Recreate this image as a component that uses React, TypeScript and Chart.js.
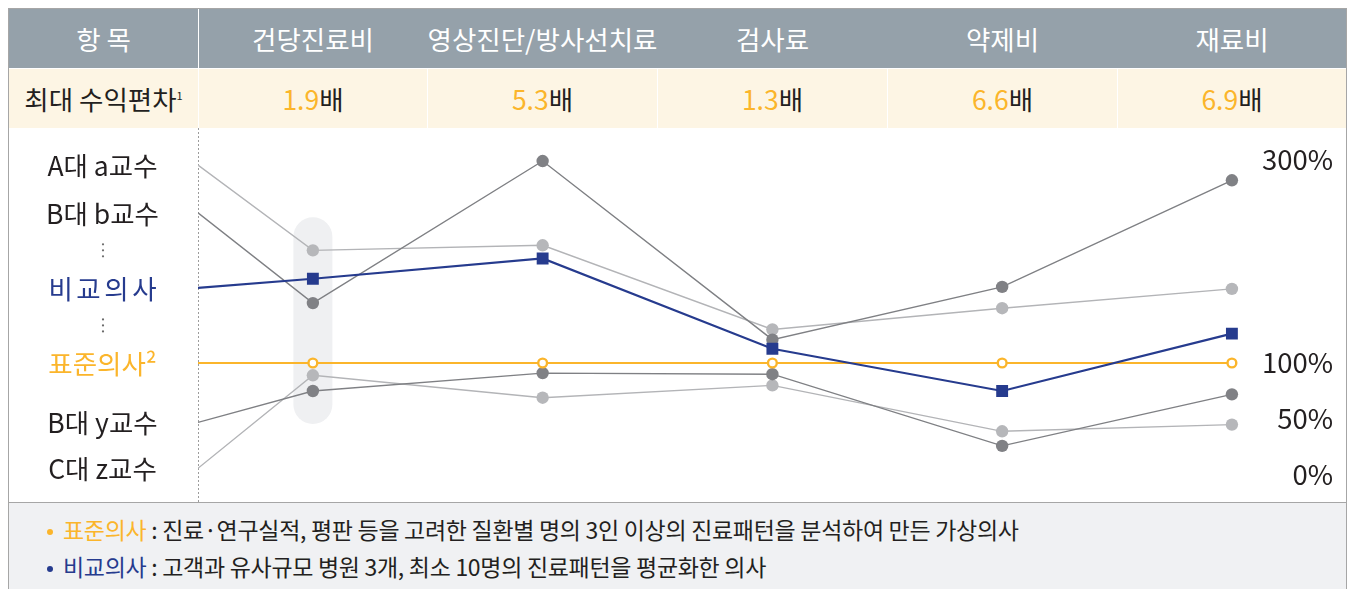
import React, { useEffect, useRef } from 'react';
import { Chart, LinearScale, registerables } from 'chart.js';

const FONT = '"Noto Sans CJK KR", "Noto Sans", sans-serif';

// ---------- data ----------
const HEADER_FIRST = '항 목';
const CATEGORIES = ['건당진료비', '영상진단/방사선치료', '검사료', '약제비', '재료비'];
const ROW_LABEL = '최대 수익편차';
const ROW_NOTE_MARK = '1';
const MAX_GAP = ['1.9', '5.3', '1.3', '6.6', '6.9'];
const GAP_UNIT = '배';

// first value of every series is where the line leaves its label (left edge)
const X_POSITIONS = [-0.5, 0, 1, 2, 3, 4];

const NAMES = ['A대 a교수', 'B대 b교수', '비교의사', '표준의사²', 'B대 y교수', 'C대 z교수'];
const A_PROF = [295, 211, 216, 133, 154, 173];
const B_PROF = [248, 159, 299, 123, 175, 280];
const COMPARE_DOC = [174, 183, 203, 114, 75, 129];
const STANDARD_DOC = [100, 100, 100, 100, 100, 100];
const Y_PROF = [47, 75, 91, 90, 26, 72];
const Z_PROF = [6, 89, 69, 80, 39, 45];

const Y_TICKS = [0, 50, 100, 300];

const NOTE_STANDARD_KEY = '표준의사';
const NOTE_STANDARD = ' : 진료·연구실적, 평판 등을 고려한 질환별 명의 3인 이상의 진료패턴을 분석하여 만든 가상의사';
const NOTE_COMPARE_KEY = '비교의사';
const NOTE_COMPARE = ' : 고객과 유사규모 병원 3개, 최소 10명의 진료패턴을 평균화한 의사';

// ---------- styles ----------
const C_ORANGE = '#fbb52b';
const C_BLUE = '#263b8e';
const C_DARK = '#7f8084';
const C_LIGHT = '#b6b7ba';
const C_TEXT = '#231f20';
const C_HEADER = '#95a1aa';
const C_BEIGE = '#fdf5e4';
const C_FOOT = '#f0f1f3';
const C_FRAME = '#a6a6a6';

type Kind = 'light' | 'dark' | 'blue' | 'orange';
const SERIES: { name: string; values: number[]; kind: Kind; color: string; spacing: number }[] = [
  { name: NAMES[0], values: A_PROF, kind: 'light', color: C_TEXT, spacing: 0 },
  { name: NAMES[1], values: B_PROF, kind: 'dark', color: C_TEXT, spacing: 0 },
  { name: NAMES[2], values: COMPARE_DOC, kind: 'blue', color: C_BLUE, spacing: 3.5 },
  { name: NAMES[3], values: STANDARD_DOC, kind: 'orange', color: C_ORANGE, spacing: 0 },
  { name: NAMES[4], values: Y_PROF, kind: 'dark', color: C_TEXT, spacing: 0 },
  { name: NAMES[5], values: Z_PROF, kind: 'light', color: C_TEXT, spacing: 0 },
];

// ---------- a y-scale whose part above 100% is slightly compressed ----------
const BREAK = 100;
const UPPER_RATIO = 0.90625;
const warp = (v: number) => (v <= BREAK ? v : BREAK + (v - BREAK) * UPPER_RATIO);
const unwarp = (u: number) => (u <= BREAK ? u : BREAK + (u - BREAK) / UPPER_RATIO);

class PiecewiseScale extends LinearScale {
  static id = 'piecewise';
  getPixelForValue(value: any) {
    if (value === null || value === undefined || isNaN(value)) return NaN;
    const a = warp(this.min);
    const b = warp(this.max);
    return this.getPixelForDecimal((warp(value) - a) / (b - a));
  }
  getValueForPixel(pixel: number) {
    const a = warp(this.min);
    const b = warp(this.max);
    return unwarp(a + this.getDecimalForPixel(pixel) * (b - a));
  }
}

Chart.register(...registerables, PiecewiseScale as any);

function datasetStyle(kind: Kind) {
  const hideFirst = (r: number) => (ctx: any) => (ctx.dataIndex === 0 ? 0 : r);
  switch (kind) {
    case 'light':
      return { borderColor: '#b3b4b7', borderWidth: 1.4, pointBackgroundColor: C_LIGHT, pointBorderWidth: 0, pointRadius: hideFirst(6.2), order: 3 };
    case 'dark':
      return { borderColor: C_DARK, borderWidth: 1.4, pointBackgroundColor: '#808185', pointBorderWidth: 0, pointRadius: hideFirst(6.2), order: 2 };
    case 'blue':
      return { borderColor: C_BLUE, borderWidth: 2.2, pointBackgroundColor: C_BLUE, pointBorderWidth: 0, pointStyle: 'rect', pointRadius: hideFirst(8.4), order: 0 };
    default:
      return { borderColor: C_ORANGE, borderWidth: 2, pointBackgroundColor: '#ffffff', pointBorderColor: C_ORANGE, pointBorderWidth: 2.4, pointRadius: hideFirst(4.4), order: 1 };
  }
}

const decorPlugin = {
  id: 'decor',
  beforeDatasetsDraw(chart: any) {
    const { ctx, chartArea, scales } = chart;
    const xs = scales.x;
    const ys = scales.y;
    // highlight pill behind the first category
    const px = xs.getPixelForValue(X_POSITIONS[1]);
    const pys = SERIES.map((s) => ys.getPixelForValue(s.values[1]));
    const top = Math.min(...pys) - 33;
    const bottom = Math.max(...pys) + 33;
    ctx.save();
    ctx.fillStyle = '#eff0f2';
    ctx.beginPath();
    ctx.roundRect(px - 19.5, top, 39, bottom - top, 19.5);
    ctx.fill();
    // dotted separator
    const lx = Math.round(chartArea.left) + 0.5;
    ctx.strokeStyle = '#9c9c9c';
    ctx.lineWidth = 1;
    ctx.setLineDash([2, 2]);
    ctx.beginPath();
    ctx.moveTo(lx, 0);
    ctx.lineTo(lx, chart.height);
    ctx.stroke();
    ctx.restore();
  },
  afterDraw(chart: any) {
    const { ctx, chartArea, scales } = chart;
    const ys = scales.y;
    const cx = chartArea.left / 2 - 1;
    ctx.save();
    ctx.textAlign = 'center';
    ctx.textBaseline = 'middle';
    ctx.font = `26.5px ${FONT}`;
    const yPix = SERIES.map((s) => ys.getPixelForValue(s.values[0]));
    SERIES.forEach((s, i) => {
      ctx.fillStyle = s.color;
      (ctx as any).letterSpacing = `${s.spacing}px`;
      ctx.fillText(s.name, cx + s.spacing / 2, yPix[i] + 1);
    });
    (ctx as any).letterSpacing = '0px';
    // vertical ellipses between label groups
    ctx.fillStyle = '#6a6a6a';
    [[1, 2], [2, 3]].forEach(([a, b]) => {
      const my = (yPix[a] + yPix[b]) / 2;
      [-6, 0, 6].forEach((d) => {
        ctx.beginPath();
        ctx.arc(cx + 0.5, my + d, 1.1, 0, Math.PI * 2);
        ctx.fill();
      });
    });
    ctx.restore();
  },
};

const COLS = [189, 228, 229, 229, 229, 228];

export default function App() {
  const canvasRef = useRef<HTMLCanvasElement>(null);

  useEffect(() => {
    document.documentElement.style.overflow = 'hidden';
    const chart = new Chart(canvasRef.current as HTMLCanvasElement, {
      type: 'line',
      data: {
        datasets: SERIES.map((s) => ({
          label: s.name,
          data: s.values.map((v, i) => ({ x: X_POSITIONS[i], y: v })),
          tension: 0,
          fill: false,
          ...datasetStyle(s.kind),
        })) as any,
      },
      options: {
        responsive: false,
        animation: false,
        events: [],
        devicePixelRatio: 1,
        layout: { autoPadding: false, padding: { left: 189, right: 13, top: 1.55, bottom: 4.6 } },
        plugins: { legend: { display: false }, tooltip: { enabled: false } },
        scales: {
          x: { type: 'linear', min: -0.5, max: 4.44, display: false },
          y: {
            type: 'piecewise' as any,
            position: 'right',
            min: -20,
            max: 330,
            bounds: 'data',
            grid: { display: false, drawTicks: false },
            border: { display: false },
            afterBuildTicks: (s: any) => {
              s.ticks = Y_TICKS.map((v) => ({ value: v }));
            },
            afterFit: (s: any) => {
              s.paddingTop = 0;
              s.paddingBottom = 0;
            },
            ticks: {
              mirror: true,
              padding: 0,
              crossAlign: 'near',
              autoSkip: false,
              color: C_TEXT,
              font: { family: FONT, size: 27.5 },
              callback: (v: any) => `${v}%`,
            },
          } as any,
        },
      },
      plugins: [decorPlugin],
    });
    return () => chart.destroy();
  }, []);

  const cell = (w: number, content: React.ReactNode, key: string) => (
    <div key={key} style={{ width: w, display: 'flex', alignItems: 'center', justifyContent: 'center', whiteSpace: 'nowrap' }}>
      {content}
    </div>
  );
  const divider = (color: string, key: string) => <div key={key} style={{ width: 1, background: color }} />;

  const headerCells: React.ReactNode[] = [];
  const beigeCells: React.ReactNode[] = [];
  COLS.forEach((w, i) => {
    if (i > 0) {
      headerCells.push(divider(i === 1 ? '#ffffff' : C_HEADER, `hd${i}`));
      beigeCells.push(divider('#ffffff', `bd${i}`));
    }
    headerCells.push(cell(w, i === 0 ? HEADER_FIRST : CATEGORIES[i - 1], `h${i}`));
    beigeCells.push(
      cell(
        w,
        i === 0 ? (
          <span>
            {ROW_LABEL}
            <span style={{ fontSize: 11, position: 'relative', top: -10 }}>{ROW_NOTE_MARK}</span>
          </span>
        ) : (
          <span>
            <span style={{ color: C_ORANGE }}>{MAX_GAP[i - 1]}</span>
            <span>{GAP_UNIT}</span>
          </span>
        ),
        `b${i}`
      )
    );
  });

  const bullet = (color: string) => (
    <span style={{ display: 'inline-block', width: 6, height: 6, borderRadius: 3, background: color, marginRight: 10, position: 'relative', top: -4 }} />
  );

  return (
    <div style={{ width: 1337, border: `1px solid ${C_FRAME}`, borderBottom: 'none', fontFamily: FONT, color: C_TEXT }}>
      <div style={{ display: 'flex', height: 59, background: C_HEADER, color: '#ffffff', fontSize: 26.5 }}>{headerCells}</div>
      <div style={{ height: 1, background: '#ffffff' }} />
      <div style={{ display: 'flex', height: 59, background: C_BEIGE, fontSize: 26.5 }}>{beigeCells}</div>
      <canvas ref={canvasRef} width={1337} height={374} style={{ display: 'block', width: 1337, height: 374 }} />
      <div style={{ borderTop: `1px solid ${C_FRAME}`, background: C_FOOT, height: 90, paddingTop: 8, paddingLeft: 38, boxSizing: 'border-box', fontSize: 23, lineHeight: '37px', letterSpacing: -0.3 }}>
        <div style={{ whiteSpace: 'nowrap' }}>
          {bullet(C_ORANGE)}
          <span style={{ color: C_ORANGE }}>{NOTE_STANDARD_KEY}</span>
          <span>{NOTE_STANDARD}</span>
        </div>
        <div style={{ whiteSpace: 'nowrap' }}>
          {bullet(C_BLUE)}
          <span style={{ color: C_BLUE }}>{NOTE_COMPARE_KEY}</span>
          <span>{NOTE_COMPARE}</span>
        </div>
      </div>
    </div>
  );
}
